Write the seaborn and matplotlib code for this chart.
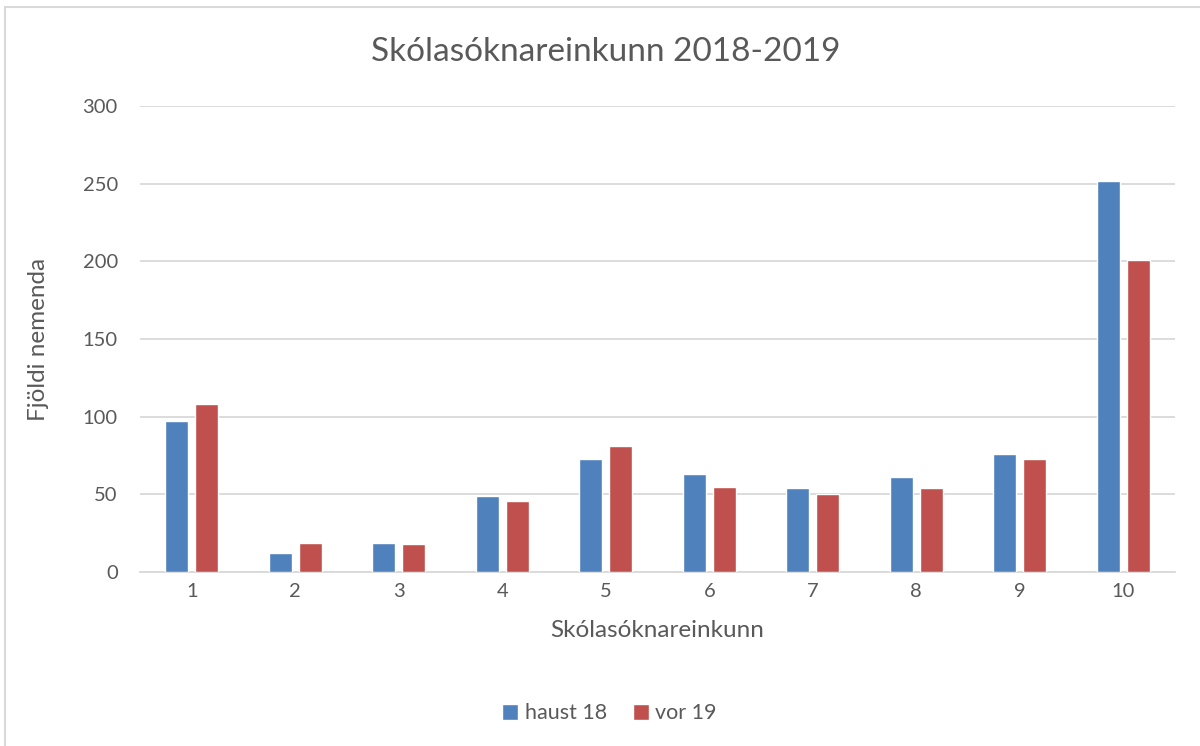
import numpy as np
import pandas as pd
import matplotlib
matplotlib.use('Agg')
import matplotlib.pyplot as plt
from matplotlib.patches import Rectangle
import seaborn as sns

# data
grades = ['1', '2', '3', '4', '5', '6', '7', '8', '9', '10']
haust_18 = [97, 12, 19, 49, 73, 63, 54, 61, 76, 252]
vor_19 = [108, 19, 18, 46, 81, 55, 50, 54, 73, 201]
series_names = ['haust 18', 'vor 19']

df = pd.DataFrame({
    'grade': grades * 2,
    'count': haust_18 + vor_19,
    'term': [series_names[0]] * len(grades) + [series_names[1]] * len(grades),
})

sns.set_style('white')
plt.rcParams['font.family'] = ['Lato', 'DejaVu Sans']
text_col = '#595959'
grid_col = '#d9d9d9'

fig = plt.figure(figsize=(12, 7.46), dpi=100)
ax = fig.add_axes([0.1167, 0.2332, 0.8625, 0.6248])

sns.barplot(data=df, x='grade', y='count', hue='term', order=grades,
            palette=['#4F81BD', '#C0504D'], width=0.58, gap=0.23,
            saturation=1, ax=ax, zorder=3)

ax.set_ylim(0, 300)
ax.set_xlim(-0.5, len(grades) - 0.5)
ax.set_yticks(range(0, 301, 50))
ax.yaxis.grid(True, color=grid_col, linewidth=1.3, zorder=0)
ax.set_axisbelow(True)
for s in ['top', 'right', 'left']:
    ax.spines[s].set_visible(False)
ax.spines['bottom'].set_color(grid_col)
ax.spines['bottom'].set_linewidth(1.3)
ax.tick_params(axis='both', length=0, labelsize=14.5, colors=text_col)
ax.tick_params(axis='y', pad=16)
ax.tick_params(axis='x', pad=8)

ax.set_xlabel('Skólasóknareinkunn', fontsize=17.5, color=text_col, labelpad=14)
ax.set_ylabel('Fjöldi nemenda', fontsize=17.5, color=text_col, labelpad=24)
fig.text(0.505, 0.93, 'Skólasóknareinkunn 2018-2019', ha='center', va='center',
         fontsize=24, color=text_col)

handles, labels = ax.get_legend_handles_labels()
ax.legend_.remove()
fig.legend(handles, labels, loc='center', bbox_to_anchor=(0.508, 0.044), ncol=2,
           frameon=False, fontsize=15.5, labelcolor=text_col,
           handlelength=0.75, handleheight=0.75, handletextpad=0.3, columnspacing=1.2)

fig.patches.append(Rectangle((0.004, -0.01), 1.2, 1.0, transform=fig.transFigure,
                             fill=False, edgecolor=grid_col, linewidth=1.5))

fig.savefig('out.png', dpi=100)
